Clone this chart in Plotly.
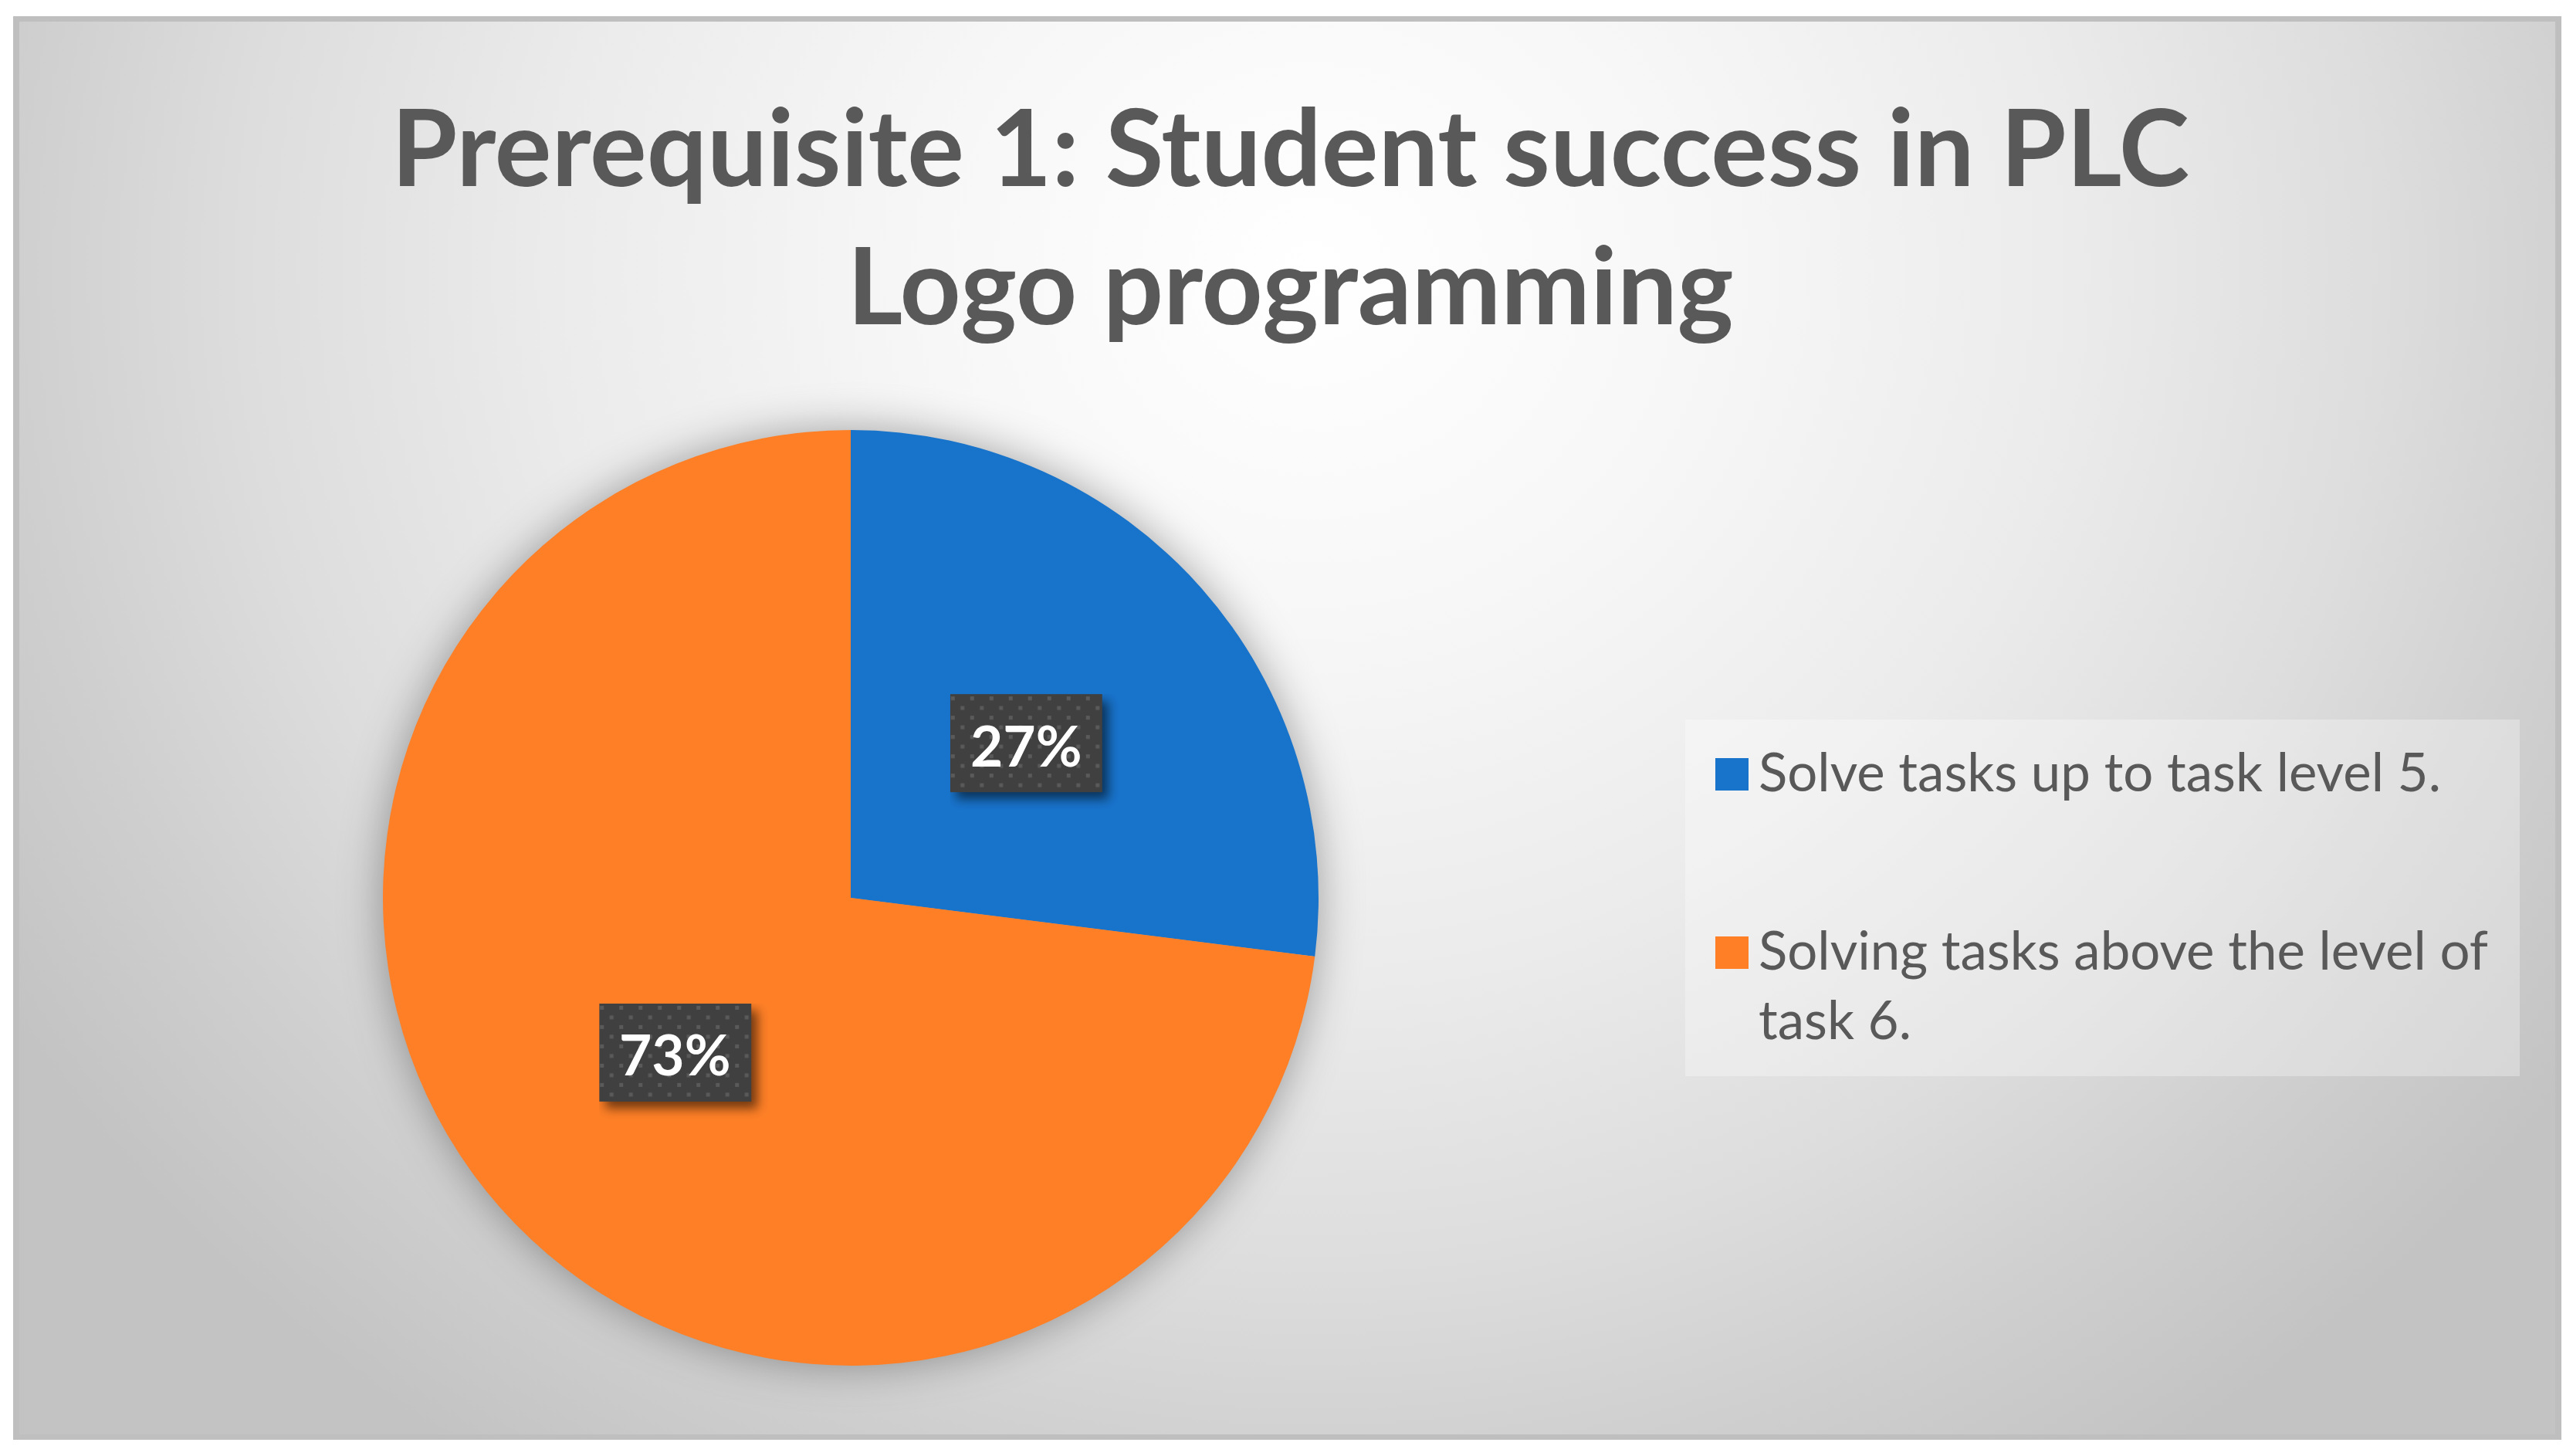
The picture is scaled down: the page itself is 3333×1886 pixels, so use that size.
import base64
import math
import plotly.graph_objects as go

# data
labels = ['Solve tasks up to task level 5.', 'Solving tasks above the level of<br>task 6.']
values = [27, 73]
colors = ['#1873CB', '#FE7F26']
pct_text = ['27%', '73%']
title_text = 'Prerequisite 1: Student success in PLC<br>Logo programming'

W, H = 3333, 1886
FONT = 'Lato'
TXT = '#595959'

# pie placement (pixels), converted to paper domain below
pie_cx, pie_cy, pie_r = 1102, 1163, 606
dom_x = [(pie_cx - pie_r) / W, (pie_cx + pie_r) / W]
dom_y = [1 - (pie_cy + pie_r) / H, 1 - (pie_cy - pie_r) / H]


def svg_uri(svg):
    return 'data:image/svg+xml;base64,' + base64.b64encode(svg.encode()).decode()


# background: framed panel with a radial grey gradient and a soft pie shadow
bg_svg = f'''<svg xmlns="http://www.w3.org/2000/svg" width="{W}" height="{H}" viewBox="0 0 {W} {H}">
<defs>
<radialGradient id="g" gradientUnits="userSpaceOnUse" cx="1700" cy="350" r="1980"
 gradientTransform="translate(1700 350) scale(1 0.93) translate(-1700 -350)">
<stop offset="0" stop-color="#ffffff"/><stop offset="0.25" stop-color="#f7f7f7"/>
<stop offset="0.5" stop-color="#ebebeb"/><stop offset="0.7" stop-color="#dddddd"/>
<stop offset="0.85" stop-color="#cfcfcf"/><stop offset="1" stop-color="#c3c3c3"/>
</radialGradient>
<filter id="b" x="-20%" y="-20%" width="140%" height="140%"><feGaussianBlur stdDeviation="28"/></filter>
</defs>
<rect width="{W}" height="{H}" fill="#ffffff"/>
<rect x="17" y="21" width="3301" height="1844" fill="#bfbfbf"/>
<rect x="25" y="28" width="3285" height="1830" fill="url(#g)"/>
<circle cx="{pie_cx}" cy="{pie_cy}" r="{pie_r}" fill="#000" fill-opacity="0.35" filter="url(#b)"/>
</svg>'''

box_w, box_h = 197, 127
lab_svg = f'''<svg xmlns="http://www.w3.org/2000/svg" width="{box_w + 40}" height="{box_h + 40}" viewBox="0 0 {box_w + 40} {box_h + 40}">
<defs>
<pattern id="p" width="25" height="25" patternUnits="userSpaceOnUse">
<rect width="25" height="25" fill="#404040"/>
<rect x="1" y="3" width="5" height="5" fill="#5a5a5a"/><rect x="13.5" y="15.5" width="5" height="5" fill="#5a5a5a"/>
</pattern>
<filter id="s" x="-30%" y="-30%" width="160%" height="160%"><feGaussianBlur stdDeviation="7"/></filter>
</defs>
<rect x="8" y="9" width="{box_w}" height="{box_h}" fill="#000" fill-opacity="0.55" filter="url(#s)"/>
<rect x="0" y="0" width="{box_w}" height="{box_h}" fill="url(#p)"/>
</svg>'''

fig = go.Figure()
fig.add_trace(go.Pie(
    labels=[l.replace('<br>', ' ') for l in labels], values=values, sort=False,
    direction='clockwise', rotation=0,
    marker=dict(colors=colors, line=dict(width=0)),
    textinfo='none', showlegend=False,
    domain=dict(x=dom_x, y=dom_y),
))

images = [dict(source=svg_uri(bg_svg), xref='paper', yref='paper', x=0, y=1,
               sizex=1, sizey=1, sizing='stretch', xanchor='left', yanchor='top', layer='below')]
annotations = []

# data labels at half radius on each slice's mid angle
total = sum(values)
cum = 0
for v, t in zip(values, pct_text):
    mid = (cum + v / 2) / total * 2 * math.pi
    cum += v
    px = pie_cx + 0.5 * pie_r * math.sin(mid)
    py = pie_cy - 0.5 * pie_r * math.cos(mid)
    images.append(dict(source=svg_uri(lab_svg), xref='paper', yref='paper',
                       x=(px - box_w / 2) / W, y=1 - (py - box_h / 2) / H,
                       sizex=(box_w + 40) / W, sizey=(box_h + 40) / H,
                       sizing='stretch', xanchor='left', yanchor='top', layer='above'))
    annotations.append(dict(text=t, x=px / W, y=1 - (py + 2) / H, xref='paper', yref='paper',
                            showarrow=False, xanchor='center', yanchor='middle',
                            font=dict(family=FONT, size=73, color='white', weight='bold')))

# legend panel
shapes = [dict(type='rect', xref='paper', yref='paper', x0=2183 / W, x1=3264 / W,
               y0=1 - 1394 / H, y1=1 - 932 / H, fillcolor='rgba(255,255,255,0.3)', line=dict(width=0),
               layer='below')]
for i, (lab, c) in enumerate(zip(labels, colors)):
    yc = 1003 + i * 231
    shapes.append(dict(type='rect', xref='paper', yref='paper', x0=2222 / W, x1=2265 / W,
                       y0=1 - (yc + 21) / H, y1=1 - (yc - 21) / H, fillcolor=c, line=dict(width=0)))
    annotations.append(dict(text=lab, x=2276 / W, y=1 - (yc - 48) / H, xref='paper', yref='paper',
                            showarrow=False, xanchor='left', yanchor='top', align='left',
                            font=dict(family=FONT, size=69, color=TXT)))

# chart title as a centred annotation
annotations.append(dict(text=title_text, x=1671 / W, y=1 - 277 / H, xref='paper', yref='paper',
                        showarrow=False, xanchor='center', yanchor='middle', align='center',
                        font=dict(family=FONT, size=138, color=TXT, weight='bold')))

fig.update_layout(
    width=W, height=H,
    margin=dict(l=0, r=0, t=0, b=0),
    paper_bgcolor='white',
    images=images, shapes=shapes, annotations=annotations,
)

fig.write_html('out.html', config={'displayModeBar': False},
               post_script="document.body.style.margin='0';")
